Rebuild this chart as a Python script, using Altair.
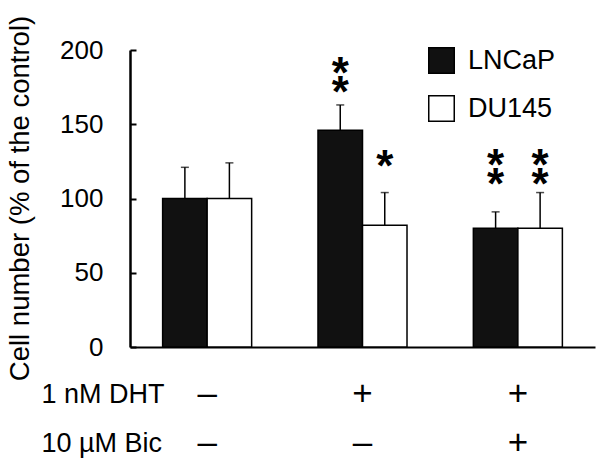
import altair as alt
import pandas as pd

# ---- data ----
groups = ["Control", "DHT", "DHT + Bic"]
series = ["LNCaP", "DU145"]
lncap_mean = [100, 146, 80]
lncap_err = [21, 17, 11]
du145_mean = [100, 82, 80]
du145_err = [24, 22, 24]
lncap_stars = [0, 2, 2]
du145_stars = [0, 1, 2]
lncap_star_level = [0, 177, 115]   # data value of lowest asterisk
du145_star_level = [0, 127, 115]
dht_row = ["–", "+", "+"]
bic_row = ["–", "–", "+"]
row_labels = ["1 nM DHT", "10 µM Bic"]
y_ticks = [0, 50, 100, 150, 200]

FONT = "Liberation Sans"

rows = []
for s, means, errs, stars, lv in [
    ("LNCaP", lncap_mean, lncap_err, lncap_stars, lncap_star_level),
    ("DU145", du145_mean, du145_err, du145_stars, du145_star_level),
]:
    for g, m, e, n, l in zip(groups, means, errs, stars, lv):
        rows.append({"group": g, "series": s, "mean": m, "upper": m + e,
                     "stars": n, "level": l})
df = pd.DataFrame(rows)
df_star1 = df[df["stars"] >= 1]
df_star2 = df[df["stars"] >= 2]

tab = []
for lab, syms in zip(row_labels, [dht_row, bic_row]):
    for g, s in zip(groups, syms):
        tab.append({"group": g, "row": lab, "sym": s})
df_tab = pd.DataFrame(tab)

xscale = alt.Scale(domain=groups, paddingInner=0.427, paddingOuter=0.21)
xaxis = alt.Axis(domain=True, domainColor="black", domainWidth=2, ticks=False,
                 labels=False, title=None, grid=False)
X = alt.X("group:N", scale=xscale, axis=xaxis)
XO = alt.XOffset("series:N", scale=alt.Scale(domain=series, paddingInner=0, paddingOuter=0))
yscale = alt.Scale(domain=[0, 200], nice=False, zero=True)

main_axis = alt.Axis(
    orient="left", values=y_ticks, domain=True, domainColor="black", domainWidth=2.5,
    ticks=False, tickSize=0, labelFontSize=26, labelFont=FONT, labelColor="black",
    labelPadding=27, grid=False, title="Cell number (% of the control)",
    titleFont=FONT, titleFontSize=27.5, titleFontWeight="normal", titleColor="black",
    titleX=-102, titleY=148, titleAngle=270, titleBaseline="alphabetic", titleAlign="center",
)
tick_axis = alt.Axis(
    orient="left", values=y_ticks, offset=-6, domain=False, ticks=True, tickSize=6,
    tickWidth=2, tickColor="black", labels=False, title=None, grid=False,
)

bars = alt.Chart(df).mark_bar(stroke="black", strokeWidth=1.5).encode(
    x=X, xOffset=XO,
    y=alt.Y("mean:Q", scale=yscale, axis=main_axis),
    fill=alt.Fill("series:N", scale=alt.Scale(domain=series, range=["#111111", "#ffffff"]),
                  legend=alt.Legend(title=None, orient="none", legendX=298, legendY=-3,
                                    symbolType="square", symbolSize=650,
                                    symbolStrokeColor="black", symbolStrokeWidth=1.5,
                                    labelFontSize=27, labelFont=FONT, labelColor="black",
                                    labelOffset=13, rowPadding=15, padding=0)),
)

err = alt.Chart(df).mark_rule(color="black", strokeWidth=1.5).encode(
    x=X, xOffset=XO,
    y=alt.Y("mean:Q", scale=yscale, axis=tick_axis),
    y2="upper:Q",
)

caps = alt.Chart(df).mark_tick(color="black", thickness=1.5, size=8).encode(
    x=X, xOffset=XO,
    y=alt.Y("upper:Q", scale=yscale, axis=None),
)

stars1 = alt.Chart(df_star1).mark_text(
    text="*", font=FONT, fontSize=44, fontWeight="bold", color="black",
    baseline="alphabetic", dy=23,
).encode(x=X, xOffset=XO, y=alt.Y("level:Q", scale=yscale, axis=None))

stars2 = alt.Chart(df_star2).mark_text(
    text="*", font=FONT, fontSize=44, fontWeight="bold", color="black",
    baseline="alphabetic", dy=4,
).encode(x=X, xOffset=XO, y=alt.Y("level:Q", scale=yscale, axis=None))

main = alt.layer(bars, err, caps, stars1, stars2).resolve_axis(y="independent")

table = alt.Chart(df_tab).mark_text(
    font=FONT, fontSize=35, color="black", baseline="middle"
).encode(
    x=X,
    y=alt.Y("row:N", scale=alt.Scale(type="point", domain=row_labels, range=[344, 393], padding=0),
            axis=alt.Axis(orient="left", domain=False, ticks=False, tickSize=0,
                          labelAlign="left", labelPadding=89, labelFontSize=27,
                          labelFont=FONT, labelColor="black", labelBaseline="middle",
                          title=None, grid=False, labelLimit=0)),
    text="sym:N",
)

chart = alt.layer(main, table).resolve_scale(y="independent").properties(
    width=465, height=297,
    padding={"left": 122, "top": 42, "right": 1, "bottom": 112},
    autosize=alt.AutoSizeParams(type="none"),
).configure_view(stroke=None)

chart.save("out.html", embed_options={"renderer": "svg", "actions": False})
